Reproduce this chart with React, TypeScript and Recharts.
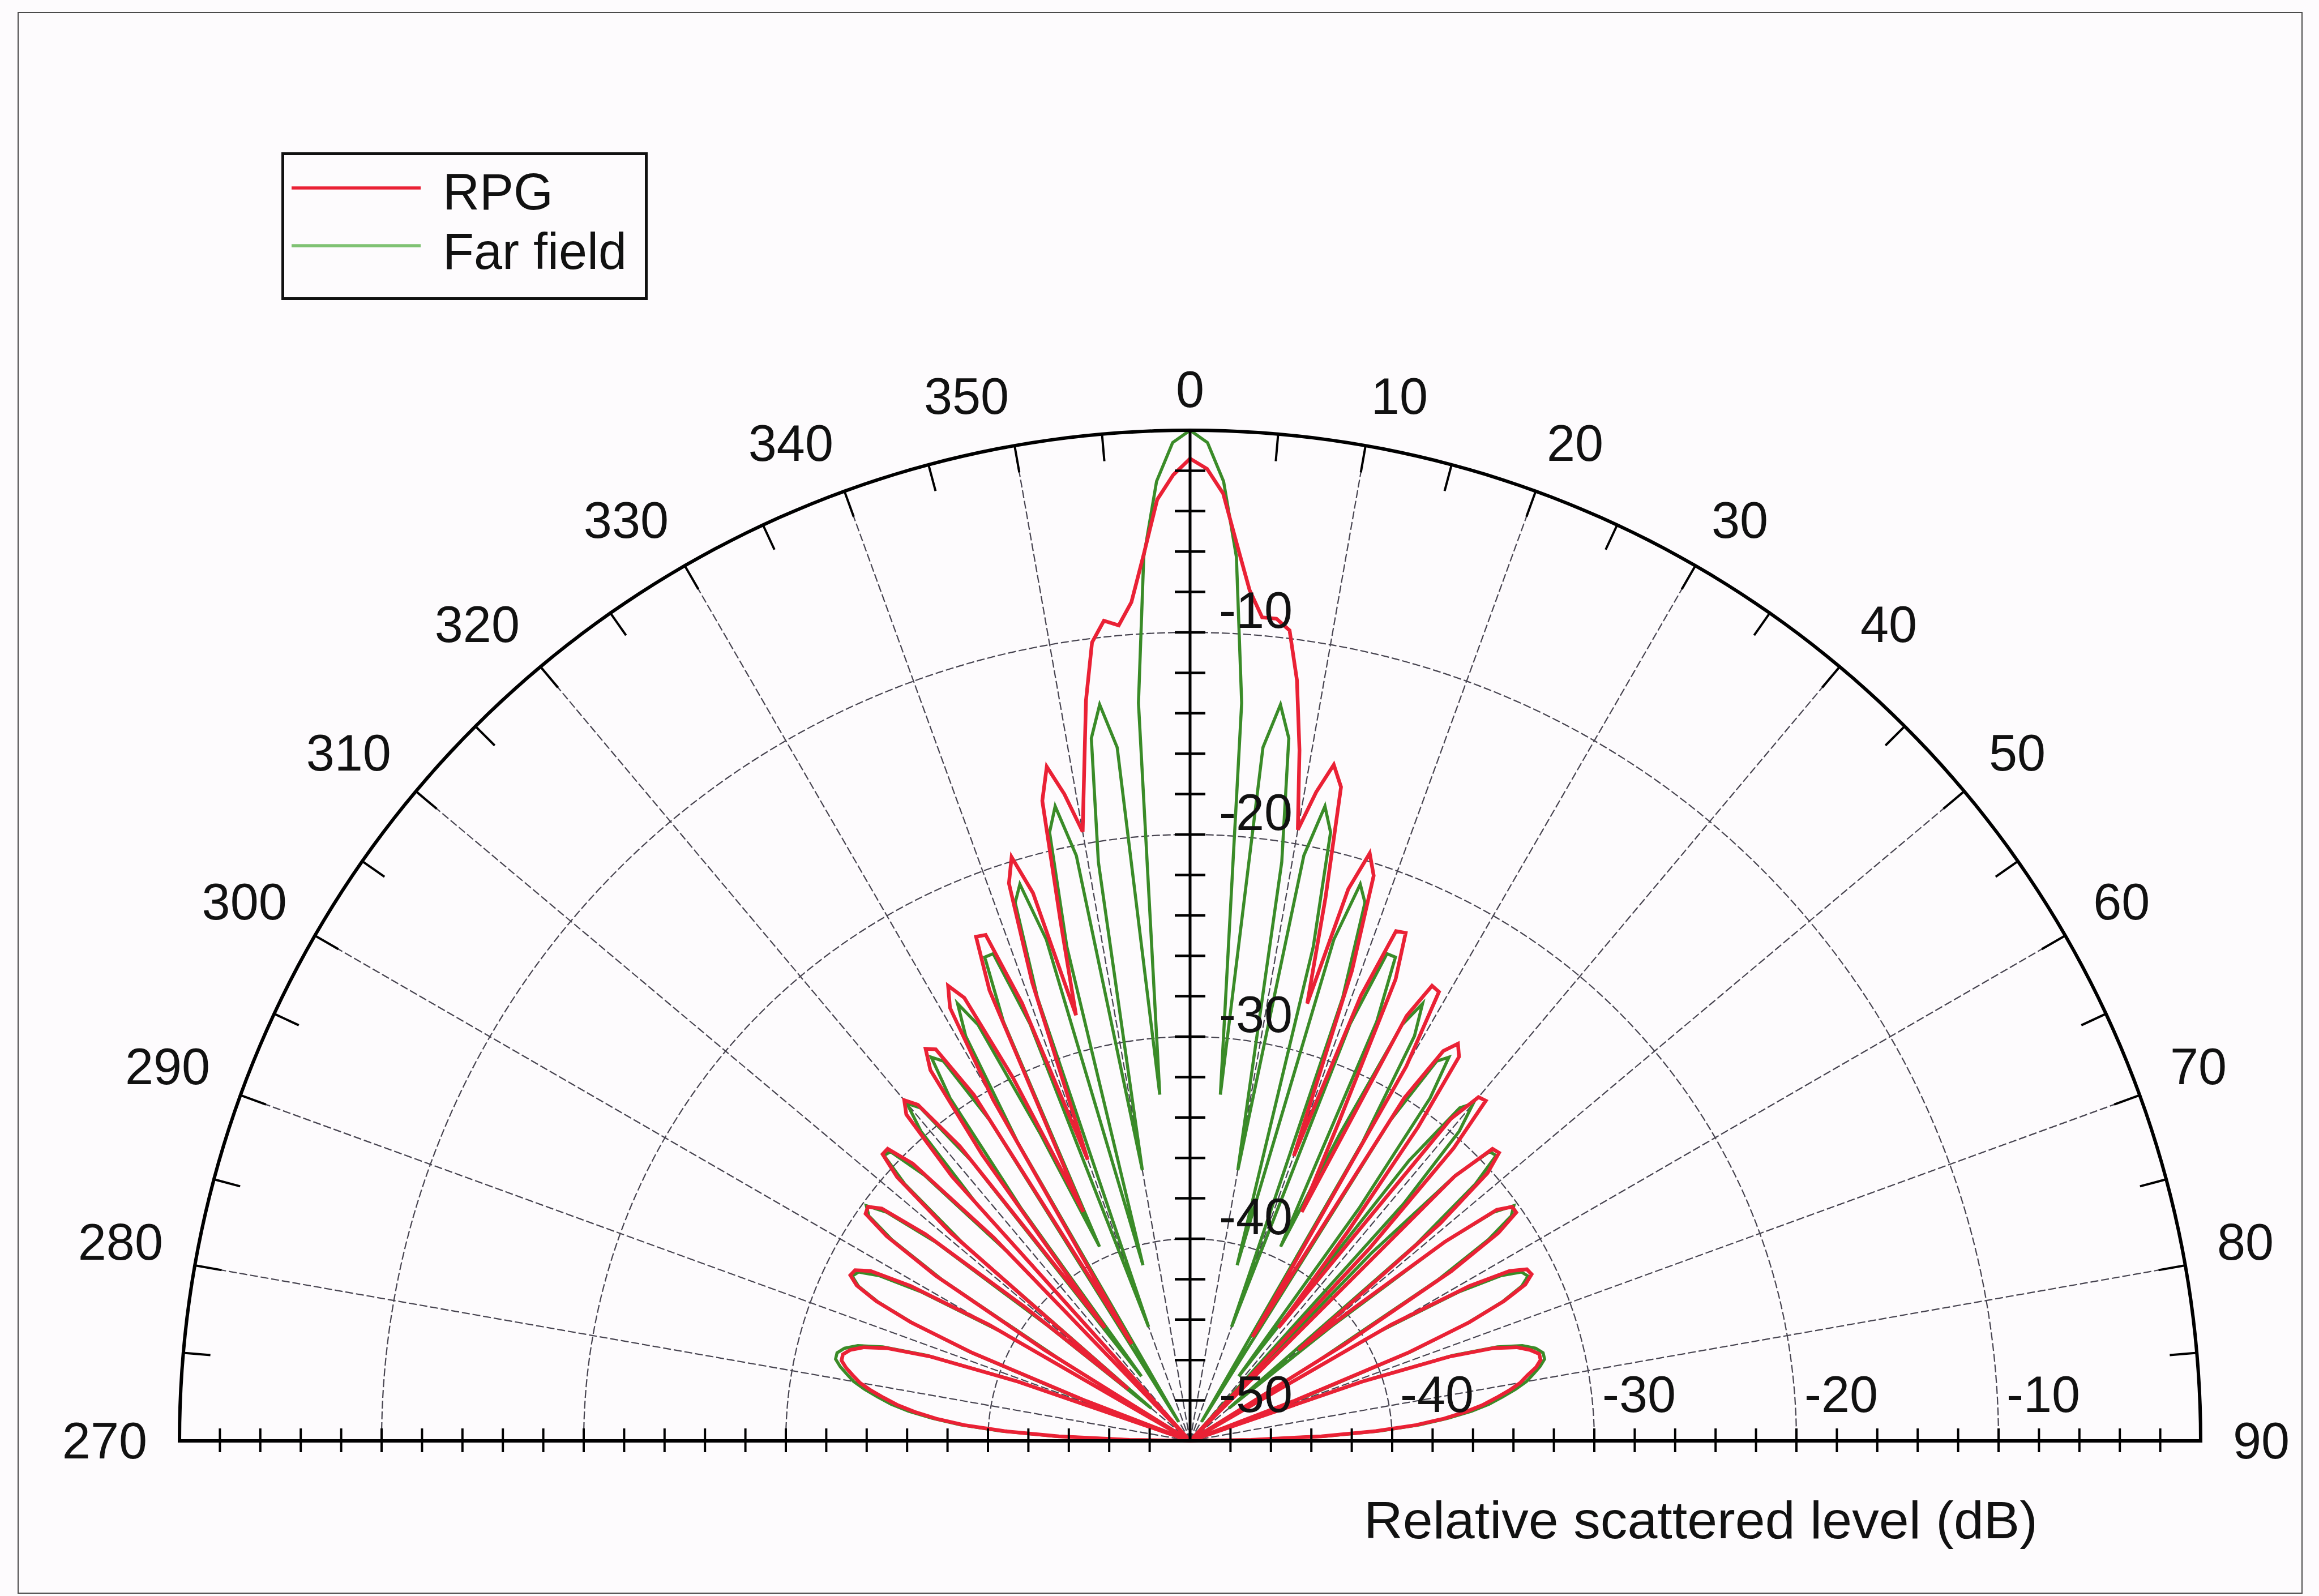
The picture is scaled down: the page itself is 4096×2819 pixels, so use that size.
import React from 'react';
import { RadarChart, Radar, PolarGrid, PolarAngleAxis, PolarRadiusAxis, Legend } from 'recharts';

const WIDTH = 4096;
const HEIGHT = 2819;
const CX = 2102;
const CY = 2545;
const OUTER = 1785;
const FONT = '"Liberation Sans", Arial, Helvetica, sans-serif';
const TEXT_SIZE = 90;
const BG = '#fdfbfd';
const RED = '#ea2135';
const GREEN = '#3a8b28';
const GREEN_KEY = '#7fc273';
const GRID = '#474450';
const LABEL_GAP = 57;

// angle ticks (degrees from broadside, left half shown as 270..350)
const angleTicks = [-90, -80, -70, -60, -50, -40, -30, -20, -10, 0, 10, 20, 30, 40, 50, 60, 70, 80, 90];
const fineTicks = Array.from({ length: 181 }, (_, i) => i - 90);
// radial (dB) ticks
const levelTicks = [-50, -48, -46, -44, -42, -40, -38, -36, -34, -32, -30, -28, -26, -24, -22, -20, -18, -16, -14, -12, -10, -8, -6, -4, -2, 0];
const ringTicks = [-50, -40, -30, -20, -10, 0];
const verticalLabels = [-50, -40, -30, -20, -10];
const horizontalLabels = [-40, -30, -20, -10];

// RPG level (dB), index = angle magnitude 0..90, 1 degree step
const rpgLeft = [
  -1.4, -2.2, -3.4, -6.1, -8.4, -9.5, -9.2, -10.2, -13.0, -16.5,
  -19.4, -17.4, -15.9, -17.5, -23.5, -28.2, -21.8, -19.8, -21.0, -26.0,
  -35.2, -26.8, -23.0, -22.9, -25.6, -37.5, -30.0, -25.4, -24.5, -25.5,
  -30.5, -44.4, -29.8, -26.9, -26.6, -27.6, -32.5, -43.0, -31.5, -28.6,
  -28.0, -28.6, -32.4, -50.0, -36.0, -30.6, -29.2, -29.2, -30.5, -34.3,
  -46.0, -39.5, -33.4, -30.9, -30.3, -30.4, -31.9, -35.0, -41.5, -50.0,
  -38.5, -34.2, -32.1, -31.4, -31.3, -31.8, -33.0, -35.0, -38.4, -44.5,
  -50.0, -41.0, -36.5, -34.3, -33.2, -32.6, -32.3, -32.3, -32.6, -33.0,
  -33.4, -34.0, -34.7, -35.4, -36.3, -37.4, -38.8, -40.8, -43.5, -47.0,
  -50.0,
];
const rpgRight = [
  -1.4, -1.9, -3.1, -5.6, -7.8, -9.1, -9.1, -9.6, -12.0, -15.4,
  -19.3, -17.3, -15.8, -16.8, -22.3, -27.6, -21.6, -19.6, -20.6, -25.4,
  -35.0, -26.4, -22.8, -22.7, -25.0, -32.5, -37.4, -26.4, -24.5, -24.6,
  -28.6, -44.0, -30.0, -27.0, -26.3, -26.8, -30.8, -37.0, -42.9, -29.5,
  -27.8, -27.7, -30.5, -37.0, -50.0, -31.5, -29.2, -29.1, -30.2, -33.6,
  -43.0, -39.5, -34.0, -31.0, -30.3, -30.3, -31.6, -34.6, -41.0, -50.0,
  -38.5, -34.2, -32.1, -31.3, -31.2, -31.7, -33.0, -35.0, -38.4, -44.5,
  -50.0, -41.0, -36.5, -34.3, -33.2, -32.6, -32.2, -32.2, -32.5, -33.0,
  -33.4, -34.0, -34.7, -35.4, -36.3, -37.4, -38.8, -40.8, -43.5, -47.0,
  -50.0,
];
// Far field level (dB), same on both sides
const farField = [
  0.0, -0.6, -2.5, -6.2, -13.4, -32.8, -15.5, -13.3, -14.9, -21.0,
  -36.4, -20.5, -17.9, -19.1, -24.8, -41.0, -24.2, -21.2, -22.0, -26.8,
  -44.0, -27.9, -24.0, -24.0, -27.3, -39.4, -33.1, -26.9, -25.5, -27.1,
  -32.9, -48.9, -31.3, -27.6, -27.1, -29.3, -35.8, -46.0, -32.4, -28.8,
  -28.2, -29.7, -34.2, -50.0, -37.1, -31.4, -29.4, -29.3, -31.0, -35.2,
  -47.5, -41.0, -34.0, -31.2, -30.2, -30.6, -32.2, -35.4, -42.5, -50.0,
  -39.1, -34.8, -32.6, -31.6, -31.4, -31.9, -33.1, -35.1, -38.2, -43.7,
  -50.0, -40.8, -36.3, -34.1, -32.9, -32.3, -32.0, -32.0, -32.3, -32.7,
  -33.1, -33.7, -34.4, -35.1, -36.0, -37.2, -38.6, -40.6, -43.3, -47.0,
  -50.0,
];

const table = fineTicks.map((angle) => ({
  angle,
  rpg: angle < 0 ? rpgLeft[-angle] : rpgRight[angle],
  far: farField[Math.abs(angle)],
}));

const common = {
  width: WIDTH,
  height: HEIGHT,
  data: table,
  cx: CX,
  cy: CY,
  innerRadius: 0,
  outerRadius: OUTER,
  startAngle: 180,
  endAngle: 0,
  margin: { top: 0, right: 0, bottom: 0, left: 0 },
};

const layer: React.CSSProperties = { position: 'absolute', left: 0, top: 0 };

const AngleLabel = (props: any) => {
  const { x, y, payload } = props;
  const v = Number(payload.value);
  let anchor: 'start' | 'middle' | 'end' = v < 0 ? 'end' : 'start';
  let dy = 0;
  if (v === 0) {
    anchor = 'middle';
    dy = 16;
  }
  const baseline = Math.abs(v) === 90 ? 'central' : 'alphabetic';
  return (
    <text x={x} y={y + dy} textAnchor={anchor} dominantBaseline={baseline} fontSize={TEXT_SIZE} fontFamily={FONT} fill="#111">
      {v < 0 ? v + 360 : v}
    </text>
  );
};

// small inward marks on the outer rim every 5 degrees
const RimMark = (props: any) => {
  const { x, y, payload } = props;
  const v = Number(payload.value);
  if (v % 5 !== 0 || Math.abs(v) === 90) return <g />;
  const rad = (payload.coordinate * Math.PI) / 180;
  const ux = Math.cos(rad);
  const uy = -Math.sin(rad);
  const x1 = x - ux;
  const y1 = y - uy;
  return <line x1={x1} y1={y1} x2={x1 - ux * 48} y2={y1 - uy * 48} stroke="#000" strokeWidth={4} />;
};

const VerticalTick = (props: any) => {
  const { x, y, payload } = props;
  const v = Number(payload.value);
  return (
    <g>
      {v !== 0 && v !== -50 && <line x1={x - 27} x2={x + 27} y1={y} y2={y} stroke="#000" strokeWidth={4.5} />}
      {verticalLabels.includes(v) && (
        <text x={x + 51} y={v === -50 ? y - 51 : y - 8} fontSize={TEXT_SIZE} fontFamily={FONT} fill="#111">
          {v}
        </text>
      )}
    </g>
  );
};

const BaselineTick = (props: any) => {
  const { x, y, payload, withLabels } = props;
  const v = Number(payload.value);
  return (
    <g>
      {v !== 0 && v !== -50 && <line x1={x} x2={x} y1={y - 22} y2={y + 20} stroke="#000" strokeWidth={4} />}
      {withLabels && horizontalLabels.includes(v) && (
        <text x={x + 14} y={y - 51} fontSize={TEXT_SIZE} fontFamily={FONT} fill="#111">
          {v}
        </text>
      )}
    </g>
  );
};

const legendOrder = ['RPG', 'Far field'];
const legendColor: Record<string, string> = { RPG: RED, 'Far field': GREEN_KEY };

const LegendBox = (props: any) => {
  const fromPayload = (props.payload || []).map((p: any) => String(p.value));
  const names = (fromPayload.length ? fromPayload : legendOrder).slice().sort(
    (a: string, b: string) => legendOrder.indexOf(a) - legendOrder.indexOf(b)
  );
  return (
    <svg width={647} height={261} style={{ display: 'block' }}>
      <rect x={2.5} y={2.5} width={642} height={256} fill={BG} stroke="#111" strokeWidth={5} />
      {names.map((n: string, i: number) => (
        <g key={n}>
          <line x1={18} x2={246} y1={63 + i * 102} y2={63 + i * 102} stroke={legendColor[n]} strokeWidth={5.5} />
          <text x={285} y={101 + i * 105} fontSize={TEXT_SIZE} fontFamily={FONT} fill="#111">
            {n}
          </text>
        </g>
      ))}
    </svg>
  );
};

export default function App() {
  return (
    <div style={{ position: 'absolute', left: 0, top: 0, width: WIDTH, height: HEIGHT, background: BG, overflow: 'hidden' }}>
      <div style={{ position: 'absolute', left: 31, top: 21, width: 4032, height: 2790, border: '2px solid #4a4a4a' }} />

      {/* dashed level rings */}
      <div style={layer}>
        <RadarChart {...common}>
          <PolarAngleAxis dataKey="angle" type="number" domain={[-90, 90]} ticks={fineTicks} tickCount={181} axisLine={false} tickLine={false} tick={false} />
          <PolarRadiusAxis type="number" domain={[-50, 0]} ticks={ringTicks} tickCount={6} allowDataOverflow axisLine={false} tick={false} />
          <PolarGrid gridType="polygon" radialLines={false} stroke={GRID} strokeWidth={2.2} strokeDasharray="14 5" />
        </RadarChart>
      </div>

      {/* dashed spokes and angle labels */}
      <div style={layer}>
        <RadarChart {...common}>
          <PolarAngleAxis
            dataKey="angle"
            type="number"
            domain={[-90, 90]}
            ticks={angleTicks}
            tickCount={19}
            axisLine={false}
            tickLine={false}
            tickSize={LABEL_GAP}
            tick={AngleLabel}
          />
          <PolarRadiusAxis type="number" domain={[-50, 0]} ticks={[-50]} tickCount={1} allowDataOverflow axisLine={false} tick={false} />
          <PolarGrid gridType="polygon" polarRadius={[]} radialLines stroke={GRID} strokeWidth={2.2} strokeDasharray="14 5" />
        </RadarChart>
      </div>

      {/* measured patterns */}
      <div style={layer}>
        <RadarChart {...common}>
          <PolarAngleAxis dataKey="angle" type="number" domain={[-90, 90]} ticks={angleTicks} axisLine={false} tickLine={false} tick={false} />
          <PolarRadiusAxis type="number" domain={[-50, 0]} allowDataOverflow axisLine={false} tick={false} />
          <Radar name="Far field" dataKey="far" stroke={GREEN} strokeWidth={5.5} fill="none" fillOpacity={0} dot={false} isAnimationActive={false} />
          <Radar name="RPG" dataKey="rpg" stroke={RED} strokeWidth={6.5} fill="none" fillOpacity={0} dot={false} isAnimationActive={false} />
          <Legend
            layout="horizontal"
            verticalAlign="middle"
            align="center"
            wrapperStyle={{ position: 'absolute', left: 497, top: 269, width: 647, height: 261 }}
            content={LegendBox}
          />
        </RadarChart>
      </div>

      {/* outer rim, baseline and vertical level axis */}
      <div style={layer}>
        <RadarChart {...common}>
          <PolarAngleAxis
            dataKey="angle"
            type="number"
            domain={[-90, 90]}
            ticks={fineTicks}
            tickCount={181}
            axisLineType="polygon"
            axisLine={{ stroke: '#000', strokeWidth: 6 }}
            tickLine={false}
            tickSize={1}
            tick={RimMark}
          />
          <PolarRadiusAxis
            angle={90}
            type="number"
            domain={[-50, 0]}
            ticks={levelTicks}
            tickCount={26}
            allowDataOverflow
            axisLine={{ stroke: '#000', strokeWidth: 5 }}
            tick={VerticalTick}
          />
        </RadarChart>
      </div>

      {/* right half of the baseline: ticks and labels */}
      <div style={layer}>
        <RadarChart {...common}>
          <PolarAngleAxis dataKey="angle" type="number" domain={[-90, 90]} ticks={angleTicks} axisLine={false} tickLine={false} tick={false} />
          <PolarRadiusAxis
            angle={0}
            type="number"
            domain={[-50, 0]}
            ticks={levelTicks}
            tickCount={26}
            allowDataOverflow
            axisLine={false}
            tick={(p: any) => <BaselineTick {...p} withLabels />}
          />
        </RadarChart>
      </div>

      {/* left half of the baseline: ticks */}
      <div style={layer}>
        <RadarChart {...common}>
          <PolarAngleAxis dataKey="angle" type="number" domain={[-90, 90]} ticks={angleTicks} axisLine={false} tickLine={false} tick={false} />
          <PolarRadiusAxis
            angle={180}
            type="number"
            domain={[-50, 0]}
            ticks={levelTicks}
            tickCount={26}
            allowDataOverflow
            axisLine={false}
            tick={(p: any) => <BaselineTick {...p} />}
          />
        </RadarChart>
      </div>

      <svg width={WIDTH} height={HEIGHT} style={{ position: 'absolute', left: 0, top: 0, pointerEvents: 'none' }}>
        <text x={2409} y={2717} fontSize={92} fontFamily={FONT} fill="#111" textLength={1190} lengthAdjust="spacingAndGlyphs">
          Relative scattered level (dB)
        </text>
      </svg>
    </div>
  );
}
